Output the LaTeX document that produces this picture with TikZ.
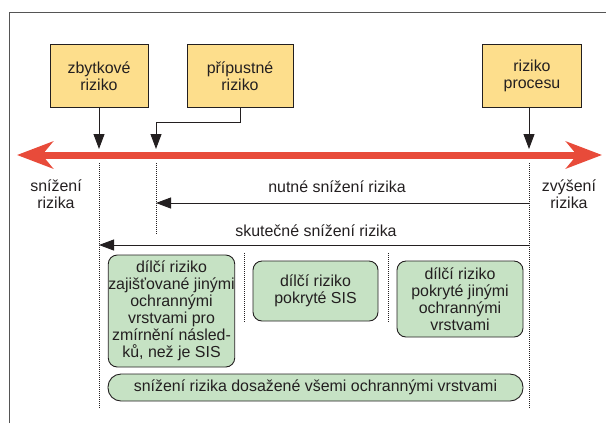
\documentclass[tikz,border=0pt]{standalone}
\usepackage{fontspec}
\setmainfont{Liberation Sans}
\usetikzlibrary{arrows.meta, positioning}
\definecolor{riskyellow}{HTML}{FDDE8C}
\definecolor{layergreen}{HTML}{C6E2C4}
\definecolor{axisred}{HTML}{E84B3A}
\definecolor{framegray}{HTML}{555555}
\definecolor{inkdark}{HTML}{231F20}

\begin{document}
\begin{tikzpicture}[x=1bp, y=-1bp,
  font=\fontsize{16}{17}\selectfont, text=inkdark,
  level/.style={draw=inkdark, fill=riskyellow, line width=0.9bp, align=center,
                inner sep=0pt, minimum height=63bp},
  layer/.style={draw=inkdark, fill=layergreen, line width=0.9bp, rounded corners=9bp,
                align=center, inner sep=0pt},
  pointer/.style={draw=inkdark, line width=0.9bp, -{Triangle[length=15bp, width=11bp]}},
  guide/.style={draw=inkdark, line width=0.7bp, dash pattern=on 0.7bp off 1.3bp},
  axis/.style={draw=axisred, line width=7bp,
               {Stealth[length=36bp, width=27bp, inset=11bp]}-{Stealth[length=36bp, width=27bp, inset=11bp]}},
]
  \useasboundingbox (0,0) rectangle (606,423);

  % Frame
  \draw[framegray, line width=0.9bp] (9,423) -- (9,12) -- (606,12);

  % Risk levels
  \node[level, minimum width=98bp] (zbytek) at (99,76) {zbytkové\\riziko};
  \node[level, minimum width=106bp] (pripustne) at (240,76) {přípustné\\riziko};
  \node[level, minimum width=99bp] (proces) at (532,76) {riziko\\procesu};

  % Marks on the risk axis
  \coordinate (zb) at (99,149);
  \coordinate (pr) at (156,149);
  \coordinate (pc) at (529,149);

  % Risk axis
  \coordinate (lo) at (17,155);
  \coordinate (hi) at (602,155);
  \draw[axis] (lo) -- (hi);

  % Levels -> axis
  \draw[pointer] (zbytek.south) -- (zb);
  \draw[pointer] (pripustne.south) -- ++(0,14) -| (pr);
  \draw[pointer] (proces.south -| pc) -- (pc);

  % Axis ends
  \node[align=center] (lowLbl) at (56,194) {snížení\\rizika};
  \node[align=center] (highLbl) at (569,194) {zvýšení\\rizika};

  % Guides
  \draw[guide] (99,163) -- (99,408);
  \draw[guide] (156,163) -- (156,234);
  \draw[guide] (529,163) -- (529,408);
  \draw[guide] (244,253) -- (244,322);
  \draw[guide] (388,253) -- (388,322);

  % Necessary and actual reduction
  \node (needLbl) at (337,187) {nutné snížení rizika};
  \coordinate (needR) at (529,203);
  \coordinate (needL) at (156,203);
  \draw[pointer] (needR) -- (needL);

  \node (realLbl) at (316,231) {skutečné snížení rizika};
  \coordinate (realR) at (529,245);
  \coordinate (realL) at (99,245);
  \draw[pointer] (realR) -- (realL);

  % Partial risks
  \node[layer, minimum width=125bp, minimum height=112bp] (otherMit) at (171.5,311)
    {dílčí riziko\\zajišťované jinými\\ochrannými\\vrstvami pro\\zmírnění násled-\\ků, než je SIS};
  \node[layer, minimum width=125bp, minimum height=60bp] (sisPart) at (315.5,291)
    {dílčí riziko\\pokryté SIS};
  \node[layer, minimum width=126bp, minimum height=76bp] (otherPart) at (460,299)
    {dílčí riziko\\pokryté jinými\\ochrannými\\vrstvami};

  % All layers
  \node[layer, rounded corners=13bp, minimum width=415bp, minimum height=27bp] (allLayers) at (315.5,387.5)
    {snížení rizika dosažené všemi ochrannými vrstvami};
\end{tikzpicture}
\end{document}
